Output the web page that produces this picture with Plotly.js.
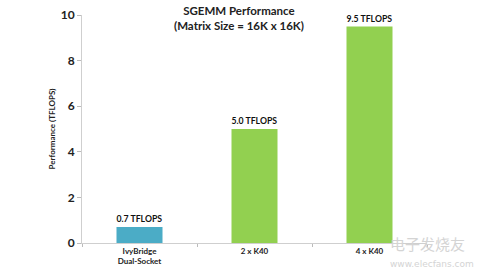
<!DOCTYPE html>
<html>
<head>
<meta charset="utf-8">
<script src="https://cdn.plot.ly/plotly-3.0.1.min.js"></script>
<style>html,body{margin:0;padding:0;background:#fff;}#chart{width:486px;height:273px;}</style>
</head>
<body>
<div id="chart"></div>
<script>
var categories = ["IvyBridge<br>Dual-Socket", "2 x K40", "4 x K40"];
var values = [0.7, 5.0, 9.5];
var valueLabels = ["0.7 TFLOPS", "5.0 TFLOPS", "9.5 TFLOPS"];
var barColors = ["#4BACC6", "#92D050", "#92D050"];
var yTicks = [0, 2, 4, 6, 8, 10];

var trace = {
  type: "bar",
  x: categories,
  y: values,
  text: valueLabels,
  textposition: "outside",
  cliponaxis: false,
  textfont: {family: "Lato, 'Open Sans', sans-serif", size: 10, color: "#111", weight: "bold"},
  marker: {color: barColors},
  width: 0.4,
  hoverinfo: "none"
};

var layout = {
  width: 486, height: 273,
  margin: {l: 82, r: 59, t: 15, b: 30},
  paper_bgcolor: "#fff", plot_bgcolor: "#fff",
  showlegend: false,
  font: {family: "Lato, 'Open Sans', sans-serif", color: "#222"},
  xaxis: {
    showgrid: false, zeroline: false,
    showline: true, linecolor: "#cfcfcf", linewidth: 1,
    ticks: "outside", tickson: "boundaries", ticklen: 3, tickcolor: "#bbb",
    tickfont: {size: 8, color: "#222", weight: "bold"},
    fixedrange: true
  },
  yaxis: {
    range: [0, 10],
    tickvals: yTicks,
    showgrid: false, zeroline: false,
    showline: true, linecolor: "#cfcfcf", linewidth: 1,
    ticks: "outside", ticklen: 4, tickcolor: "#bbb",
    tickfont: {size: 12, color: "#222", weight: "bold"},
    title: {text: "<b>Performance (TFLOPS)</b>", font: {size: 8, color: "#222"}, standoff: 3},
    automargin: false,
    fixedrange: true
  },
  annotations: [
    {xref: "paper", yref: "paper", x: 0.455, y: 1.055, xanchor: "center", yanchor: "top",
     text: "<b>SGEMM Performance<br>(Matrix Size = 16K x 16K)</b>", showarrow: false,
     font: {size: 11.5, color: "#222"}},
    {xref: "paper", yref: "paper", x: 0.888, y: 0.0, xanchor: "left", yanchor: "middle",
     text: "电子发烧友", showarrow: false, font: {family: "Noto Sans CJK SC", size: 15, color: "#d4d4d4"}},
    {xref: "paper", yref: "paper", x: 0.888, y: -0.06, xanchor: "left", yanchor: "top",
     text: "www.elecfans.com", showarrow: false, font: {family: "DejaVu Sans", size: 9, color: "#d4d4d4"}}
  ]
};

Plotly.newPlot("chart", [trace], layout, {displayModeBar: false, staticPlot: true});
</script>
</body>
</html>
